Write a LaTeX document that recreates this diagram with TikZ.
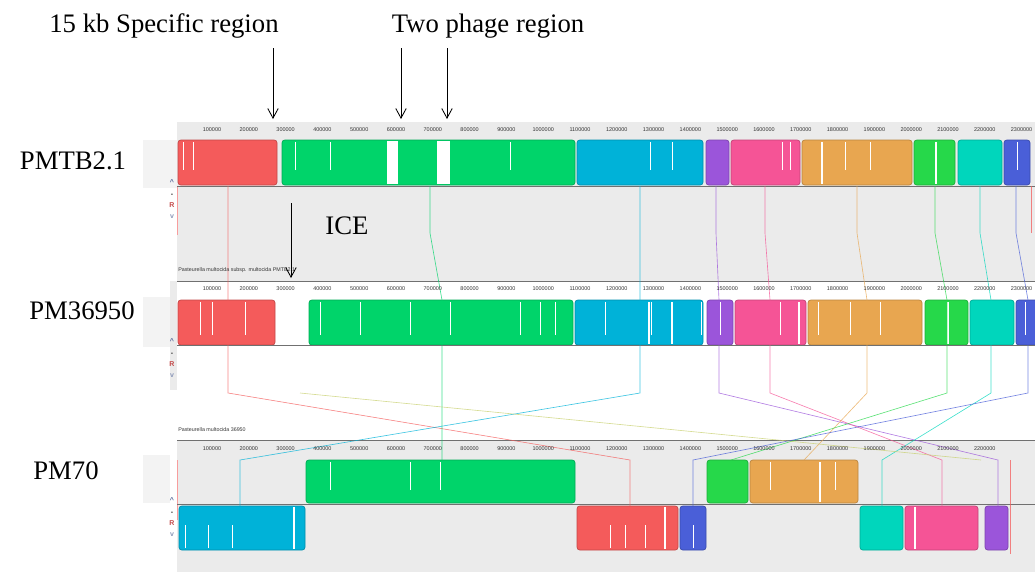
\documentclass[tikz,border=0pt]{standalone}
\usepackage{fontspec}
\setmainfont{Liberation Serif}
\setsansfont{Liberation Sans}
\usetikzlibrary{arrows.meta, positioning}
\definecolor{panelgray}{HTML}{EBEBEB}
\definecolor{lblgray}{HTML}{F3F3F3}
\definecolor{rulegray}{HTML}{707070}
\definecolor{glyphblue}{HTML}{5A6A9A}
\definecolor{lcbred}{HTML}{F45B5B}
\definecolor{lcbgreen}{HTML}{00D46A}
\definecolor{lcbblue}{HTML}{00B2D8}
\definecolor{lcbpurple}{HTML}{9B55DA}
\definecolor{lcbpink}{HTML}{F55496}
\definecolor{lcborange}{HTML}{E8A650}
\definecolor{lcbgreenb}{HTML}{26D84A}
\definecolor{lcbteal}{HTML}{00D6BC}
\definecolor{lcbnavy}{HTML}{4A5FD8}
\definecolor{lcbolive}{HTML}{C8D070}
\tikzset{
  lcb/.style    = {rounded corners=2pt, line width=0.5pt},
  gap/.style    = {draw=white, line width=0.35pt},
  conn/.style   = {line width=0.45pt, opacity=0.75},
  ttl/.style    = {font=\fontsize{19}{22}\selectfont, inner sep=0pt},
  tick/.style   = {font=\sffamily\fontsize{3.9}{4}\selectfont, text=black!80, inner sep=0pt},
  seqcap/.style = {font=\sffamily\fontsize{3.8}{4}\selectfont, text=black!80, anchor=west, inner sep=0pt},
  glyph/.style  = {font=\sffamily\bfseries\fontsize{5}{5}\selectfont, inner sep=0pt},
  pin/.style    = {-{Straight Barb[length=2.4mm, width=2.6mm]}, line width=0.6pt},
}

\begin{document}
\begin{tikzpicture}[x=0.25mm, y=-0.25mm]
	\useasboundingbox (0,0) rectangle (1035,572);
	% panels
	\fill[panelgray] (177,122) rectangle (1035,281);
	\fill[panelgray] (177,440) rectangle (1035,572);
	\fill[panelgray] (170,281) rectangle (177,390);
	\fill[lblgray] (143,140) rectangle (177,188);
	\fill[lblgray] (143,297) rectangle (170,347);
	\fill[lblgray] (143,455) rectangle (170,503);
	\draw[lcbred!60, line width=0.4pt] (177,186) -- (177,235);
	\draw[lcbred!60, line width=0.4pt] (177,460) -- (177,520);

	% PMTB2.1 blocks
	\foreach \c/\a/\b in {lcbred/178/277, lcbgreen/282/575, lcbblue/577/703, lcbpurple/706/729, lcbpink/731/800,
		lcborange/802/912, lcbgreenb/914/955, lcbteal/958/1002, lcbnavy/1004/1030}
		\draw[lcb, fill=\c, draw=\c!80!black] (\a,140) rectangle (\b,185);
	\fill[white] (387,141) rectangle (398,184);
	\fill[white] (437,141) rectangle (450,184);
	\foreach \a in {183,193,295,330,510,650,672,782,790,845,870,1017}
		\draw[gap] (\a,142) -- (\a,170);
	\foreach \a in {822,936}
		\draw[gap, line width=1.2pt] (\a,142) -- (\a,184);

	% PM36950 blocks
	\foreach \c/\a/\b in {lcbred/178/275, lcbgreen/309/573, lcbblue/575/703, lcbpurple/707/733, lcbpink/735/806,
		lcborange/808/922, lcbgreenb/925/968, lcbteal/970/1014, lcbnavy/1016/1045}
		\draw[lcb, fill=\c, draw=\c!80!black] (\a,300) rectangle (\b,345);
	\foreach \a in {200,212,245,320,360,410,450,520,540,555,605,651,701,720,780,818,850,880,1025}
		\draw[gap] (\a,302) -- (\a,335);
	\foreach \a in {649,672,799,948}
		\draw[gap, line width=1.2pt] (\a,302) -- (\a,344);

	% PM70 blocks, forward row
	\foreach \c/\a/\b in {lcbgreen/306/575, lcbgreenb/707/748, lcborange/750/858}
		\draw[lcb, fill=\c, draw=\c!80!black] (\a,460) rectangle (\b,503);
	% PM70 blocks, reverse row
	\foreach \c/\a/\b in {lcbblue/179/305, lcbred/577/678, lcbnavy/680/706, lcbteal/860/903, lcbpink/905/978, lcbpurple/985/1008}
		\draw[lcb, fill=\c, draw=\c!80!black] (\a,506) rectangle (\b,550);
	\foreach \a in {330,410,440,770,835}
		\draw[gap] (\a,462) -- (\a,490);
	\draw[gap, line width=1.2pt] (820,462) -- (820,502);
	\foreach \a in {185,208,232,610,625,645,693}
		\draw[gap] (\a,548) -- (\a,525);
	\foreach \a in {294,665,915}
		\draw[gap, line width=1.2pt] (\a,507) -- (\a,549);

	% baselines and separators
	\foreach \y in {186,345,504}
		\draw[rulegray, line width=0.5pt] (177,\y) -- (1035,\y);
	\foreach \y in {281,440}
		\draw[rulegray, line width=0.6pt] (177,\y) -- (1035,\y);

	% LCB connectors
	\foreach \c/\a/\b/\d/\e in {lcbred/228/228/630/506, lcbgreen/430/442/442/460, lcbblue/640/640/240/506,
		lcbpurple/716/719/998/506, lcbpink/765/770/942/506, lcborange/857/867/804/460,
		lcbgreenb/935/947/731/460, lcbteal/980/991/882/506, lcbnavy/1016/1028/693/506}
		\draw[conn, draw=\c] (\a,186) -- (\a,233) -- (\b,300) -- (\b,393) -- (\d,460) -- (\d,\e);
	\draw[conn, draw=lcbolive] (300,393) -- (981,460);
	\draw[conn, draw=lcbred] (1031,186) -- (1031,233);
	\draw[conn, draw=lcbred] (1010,460) -- (1010,554);

	% rulers
	\foreach \k in {1,...,23}
		\node[tick] (rulA\k) at ({212+(\k-1)*36.8},130) {\k00000};
	\foreach \k in {1,...,23}
		\node[tick] (rulB\k) at ({212+(\k-1)*36.8},289) {\k00000};
	\foreach \k in {1,...,22}
		\node[tick] (rulC\k) at ({212+(\k-1)*36.8},449) {\k00000};
	\node[seqcap] (capA) at (178,270) {Pasteurella multocida subsp. multocida PMTB2.1};
	\node[seqcap] (capB) at (178,430) {Pasteurella multocida 36950};

	% panel glyphs
	\foreach \p/\y in {A/186, B/345, C/504}{
		\node[glyph, text=glyphblue] (up\p) at (172,{\y-4}) {\textasciicircum};
		\node[glyph, text=black!80] (dash\p) at (172,{\y+9}) {-};
		\node[glyph, text=lcbred!80!black] (rev\p) at (172,{\y+19}) {R};
		\node[glyph, text=glyphblue!70] (dn\p) at (172,{\y+31}) {v};
	}

	% genome names
	\node[ttl] (pmtb) at (73,161) {PMTB2.1};
	\node[ttl] (pmB) at (82,311) {PM36950};
	\node[ttl] (pmC) at (66,471) {PM70};

	% annotations
	\node[ttl] (spec) at (164,26) {15 kb Specific region};
	\node[ttl] (phage) at (488,26) {Two phage region};
	\node[ttl] (ice) at (347,226) {ICE};
	\coordinate (specTop) at (273,48);   \coordinate (specTip) at (273,119);
	\coordinate (phaA) at (401,48);      \coordinate (phaATip) at (401,119);
	\coordinate (phaB) at (447,48);      \coordinate (phaBTip) at (447,119);
	\coordinate (iceTop) at (291,203);   \coordinate (iceTip) at (291,278);
	\foreach \s/\t in {specTop/specTip, phaA/phaATip, phaB/phaBTip, iceTop/iceTip}
		\draw[pin] (\s) -- (\t);
\end{tikzpicture}
\end{document}
